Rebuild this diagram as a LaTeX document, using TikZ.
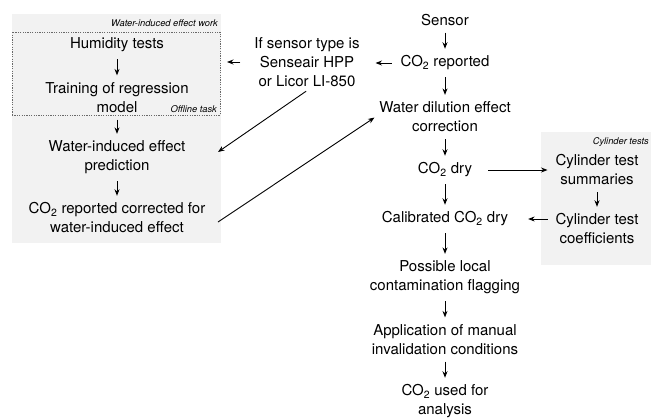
\documentclass[tikz,border=0pt]{standalone}
\usepackage{fontspec}
\setmainfont{TeX Gyre Heros}
\usepackage{tikz}
\usetikzlibrary{arrows.meta, calc}
\definecolor{panelgray}{RGB}{242, 242, 242}
\definecolor{dashgray}{RGB}{105, 105, 105}
\tikzset{
    txt/.style  ={align=center, inner sep=4pt, outer sep=0pt,
                  font=\fontsize{15}{19}\selectfont},
    tag/.style  ={inner sep=0pt, font=\fontsize{9.3}{11}\selectfont\itshape},
    panel/.style={fill=panelgray, inner sep=0pt, outer sep=0pt},
    offl/.style ={draw=dashgray, dash pattern=on 1.2pt off 1.2pt,
                  line width=0.5pt, inner sep=0pt, outer sep=0pt},
    ar/.style   ={-{Stealth[length=6.5pt, width=5pt]}, line width=0.9pt,
                  shorten <=3pt, shorten >=3pt}
}
\newcommand{\cotwo}{CO\textsubscript{2}}

\begin{document}
\begin{tikzpicture}[x=1pt, y=1pt]
  \useasboundingbox (0,0) rectangle (651,-418);

  % grey panels
  \node[panel, minimum width=209pt, minimum height=229pt] (waterpanel) at (116.5,-128.5) {};
  \node[panel, minimum width=110pt, minimum height=133pt] (cylpanel)   at (596,-198.5) {};
  \node[offl,  minimum width=208pt, minimum height=83pt]  (offline)    at (116,-73.5) {};

  \node[tag, anchor=east] (worktag) at (218,-23)  {Water-induced effect work};
  \node[tag, anchor=east] (offtag)  at (217,-109) {Offline task};
  \node[tag, anchor=east] (cyltag)  at (649,-142) {Cylinder tests};

  % main column
  \node[txt] (sensor)  at (445,-20)    {Sensor};
  \node[txt] (co2rep)  at (445,-63)    {\cotwo{} reported};
  \node[txt] (waterdil) at (445,-117)  {Water dilution effect\\correction};
  \node[txt] (co2dry)  at (445,-170)   {\cotwo{} dry};
  \node[txt] (calib)   at (445,-219)   {Calibrated \cotwo{} dry};
  \node[txt] (flag)    at (445,-277.5) {Possible local\\contamination flagging};
  \node[txt] (invalid) at (445,-339.5) {Application of manual\\invalidation conditions};
  \node[txt] (used)    at (445,-401.5) {\cotwo{} used for\\analysis};

  % water-induced effect
  \node[txt] (ifsensor) at (307,-62)  {If sensor type is\\Senseair HPP\\or Licor LI-850};
  \node[txt] (humid)   at (117,-45)    {Humidity tests};
  \node[txt] (train)   at (117,-97.5)  {Training of regression\\model};
  \node[txt] (predict) at (117,-157.5) {Water-induced effect\\prediction};
  \node[txt] (corr)    at (117,-218)   {\cotwo{} reported corrected for\\water-induced effect};

  % cylinder tests
  \node[txt] (summ)    at (597,-170)   {Cylinder test\\summaries};
  \node[txt] (coef)    at (597,-229)   {Cylinder test\\coefficients};

  \coordinate (predin)  at ($(predict)+(101,5.5)$);
  \coordinate (corrout) at ($(corr)+(101,-4)$);

  \draw[ar] (sensor) -- (co2rep);
  \draw[ar] (co2rep) -- (waterdil);
  \draw[ar] (waterdil) -- (co2dry);
  \draw[ar] (co2dry) -- (calib);
  \draw[ar] (calib) -- (flag);
  \draw[ar] (flag) -- (invalid);
  \draw[ar] (invalid) -- (used);

  \draw[ar, shorten <=5pt, shorten >=12pt] (co2rep.west) -- (co2rep.west -| ifsensor.east);
  \draw[ar, shorten <=10pt, shorten >=7pt] (ifsensor.west) -- (ifsensor.west -| offline.east);
  \draw[ar] (humid) -- (train);
  \draw[ar] (train) -- (predict);
  \draw[ar] (predict) -- (corr);
  \draw[ar, shorten <=1pt, shorten >=0pt] (ifsensor.south) -- (predin);
  \draw[ar, shorten <=0pt, shorten >=1pt] (corrout) -- (waterdil.west);

  \draw[ar, shorten <=12pt, shorten >=4pt] (co2dry.east) -- (co2dry.east -| summ.west);
  \draw[ar] (summ) -- (coef);
  \draw[ar, shorten <=4pt, shorten >=16pt] (coef.west |- calib) -- (calib.east);
\end{tikzpicture}
\end{document}
